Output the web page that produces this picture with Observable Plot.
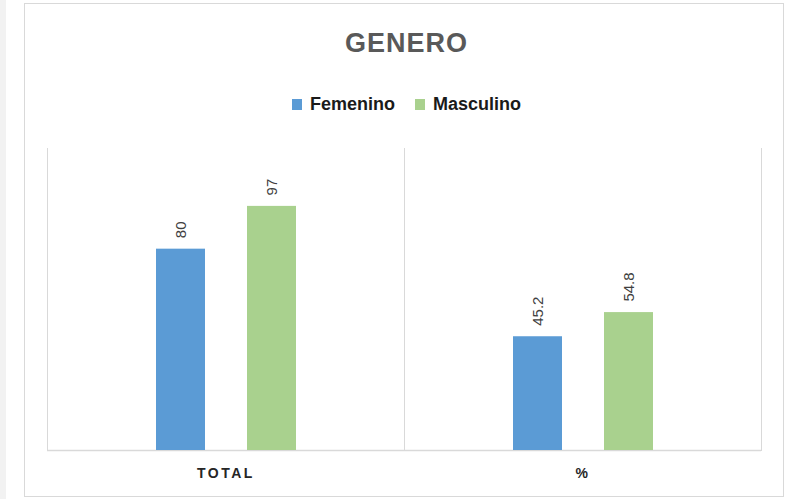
<!DOCTYPE html>
<html>
<head>
<meta charset="utf-8">
<script src="https://cdn.jsdelivr.net/npm/d3@7"></script>
<script src="https://cdn.jsdelivr.net/npm/@observablehq/plot@0.6"></script>
<style>
  body { margin: 0; background: #fff; width: 795px; height: 499px; overflow: hidden; position: relative; font-family: "Liberation Sans", Arial, sans-serif; }
  #strip { position: absolute; left: 0; top: 0; width: 6px; height: 499px; background: #f2f2f2; }
  #box { position: absolute; left: 24px; top: 3px; width: 760px; height: 494px; border: 1px solid #d9d9d9; box-sizing: border-box; }
  #title { position: absolute; left: 0; width: 795px; top: 26px; height: 34px; line-height: 34px; text-align: center; font-size: 27px; font-weight: bold; letter-spacing: 1px; color: #595959; padding-left: 18px; box-sizing: border-box; }
  #legend { position: absolute; left: 0; width: 795px; top: 94px; height: 20px; line-height: 20px; display: flex; justify-content: center; align-items: center; font-size: 18px; font-weight: bold; color: #1a1a1a; padding-left: 18px; box-sizing: border-box; }
  .item { display: flex; align-items: center; margin: 0 10px; }
  .sw { width: 10px; height: 11px; margin-right: 8px; }
  #chart { position: absolute; left: 0; top: 120px; }
  #chart g[aria-label^="fx-axis"] text { font-weight: bold; letter-spacing: 2.5px; font-size: 14px; fill: #262626; }
</style>
</head>
<body>
<div id="strip"></div>
<div id="box"></div>
<div id="title"></div>
<div id="legend"></div>
<div id="chart"></div>
<script>
const title = "GENERO";
const categories = ["TOTAL", "%"];
const series = ["Femenino", "Masculino"];
const femenino = [80, 45.2];
const masculino = [97, 54.8];
const colors = ["#5b9bd5", "#a9d18e"];

const data = categories.flatMap((c, i) => [
  {cat: c, sex: series[0], value: femenino[i]},
  {cat: c, sex: series[1], value: masculino[i]}
]);

document.getElementById("title").textContent = title;
const legend = document.getElementById("legend");
series.forEach((s, i) => {
  const item = document.createElement("div");
  item.className = "item";
  const sw = document.createElement("span");
  sw.className = "sw";
  sw.style.background = colors[i];
  const t = document.createElement("span");
  t.textContent = s;
  item.appendChild(sw);
  item.appendChild(t);
  legend.appendChild(item);
});

const chart = Plot.plot({
  width: 795,
  height: 370,
  marginLeft: 47,
  marginRight: 34,
  marginTop: 28,
  marginBottom: 40,
  style: {background: "transparent", fontFamily: "Liberation Sans, Arial, sans-serif", color: "#404040"},
  fx: {domain: categories, padding: 0, label: null, tickSize: 0, tickPadding: 18, axis: "bottom"},
  x: {domain: series, paddingInner: 0.467, paddingOuter: 1.174, axis: null},
  y: {domain: [0, 120], axis: null},
  color: {domain: series, range: colors},
  marks: [
    Plot.frame({anchor: "left", stroke: "#d9d9d9"}),
    Plot.frame({anchor: "right", stroke: "#d9d9d9"}),
    Plot.ruleY([0], {stroke: "#d9d9d9", strokeWidth: 1.5}),
    Plot.barY(data, {fx: "cat", x: "sex", y: "value", fill: "sex"}),
    Plot.text(data, {fx: "cat", x: "sex", y: "value", text: d => String(d.value), rotate: -90, textAnchor: "start", dy: -11, fontSize: 15, fill: "#404040"})
  ]
});
document.getElementById("chart").appendChild(chart);
</script>
</body>
</html>
